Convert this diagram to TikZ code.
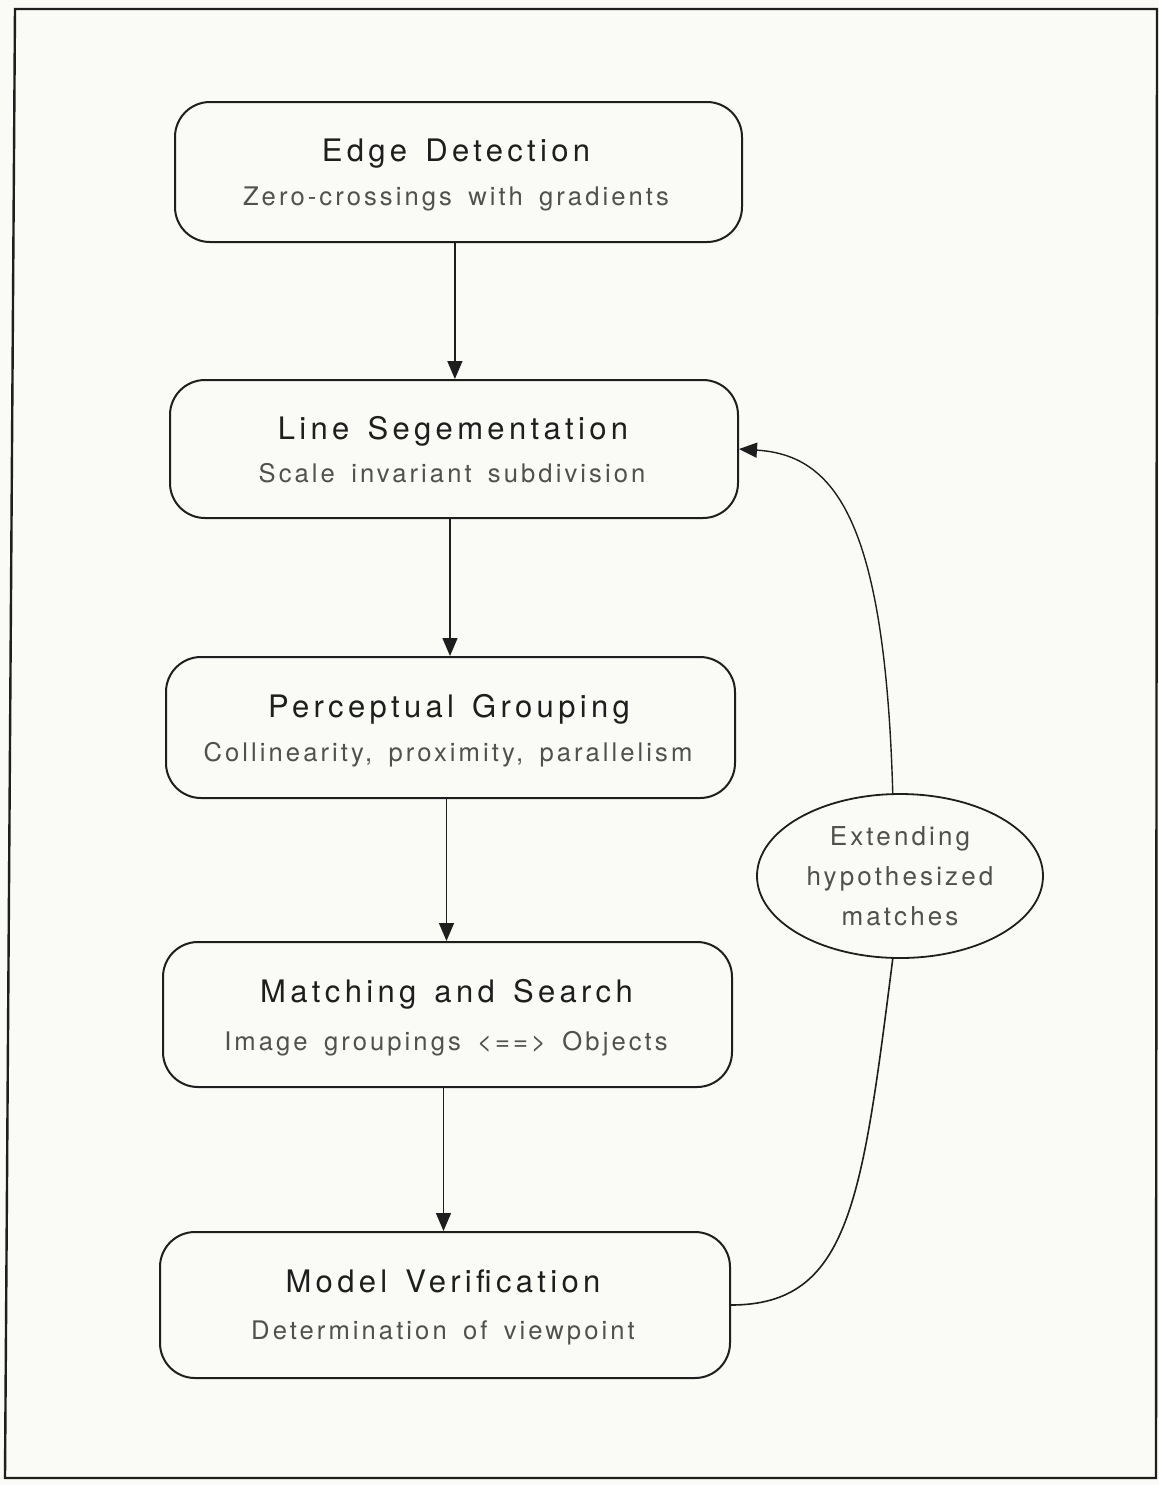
\documentclass[tikz,border=0pt]{standalone}
\usepackage{fontspec}
\setmainfont{TeX Gyre Heros}
\newfontfamily\titlefam{TeX Gyre Heros}[LetterSpace=14,WordSpace=1.4]
\newfontfamily\subfam{TeX Gyre Heros}[LetterSpace=12,WordSpace=1.6]
\usetikzlibrary{arrows.meta,shapes.geometric}
\definecolor{paper}{RGB}{250,250,246}
\definecolor{ink}{RGB}{30,30,30}
\definecolor{subink}{RGB}{80,80,80}
\tikzset{
  stage/.style={draw=ink, line width=1pt, rounded corners=17.5pt, inner sep=0pt},
  ttl/.style={anchor=base, inner sep=0pt, text=ink, font=\titlefam\fontsize{15.5}{18}\selectfont},
  sub/.style={anchor=base, inner sep=0pt, text=subink, font=\subfam\fontsize{12.8}{15}\selectfont},
  oval/.style={draw=ink, line width=0.9pt, ellipse, inner sep=0pt, minimum width=143pt, minimum height=82pt, align=center, text=subink, font=\subfam\fontsize{13}{20}\selectfont},
  arr/.style={draw=ink, line width=0.7pt, -{Triangle[length=9pt,width=7.5pt]}},
  link/.style={draw=ink, line width=0.8pt}
}
\begin{document}
\begin{tikzpicture}[x=0.5pt,y=-0.5pt]
\fill[paper] (0,0) rectangle (1159,1485);
\useasboundingbox (0,0) rectangle (1159,1485);
% frame
\draw[ink, line width=1.2pt] (15,9) -- (1157,9) -- (1156,1478) -- (5,1478) -- cycle;

% stages
\node[stage, minimum width=283.5pt, minimum height=70pt] (b1) at (458.5,172) {};
\node[stage, minimum width=284pt, minimum height=69pt] (b2) at (454,449) {};
\node[stage, minimum width=284.5pt, minimum height=70.5pt] (b3) at (450.5,727.5) {};
\node[stage, minimum width=284.5pt, minimum height=72.5pt] (b4) at (447.5,1014.5) {};
\node[stage, minimum width=285pt, minimum height=73pt] (b5) at (445,1305) {};

% texts
\node[ttl] (t1) at (456,161) {Edge Detection};
\node[sub] (s1) at (456,205) {Zero-crossings with gradients};
\node[ttl] (t2) at (453,439) {Line Segementation};
\node[sub] (s2) at (452,482) {Scale invariant subdivision};
\node[ttl] (t3) at (449,717) {Perceptual Grouping};
\node[sub] (s3) at (448,761) {Collinearity, proximity, parallelism};
\node[ttl] (t4) at (446.5,1002) {Matching and Search};
\node[sub] (s4) at (446,1050) {Image groupings <==> Objects};
\node[ttl] (t5) at (443,1292) {Model Verification};
\node[sub] (s5) at (443,1339) {Determination of viewpoint};

% ellipse
\node[oval] (e) at (900,876) {Extending\\hypothesized\\matches};

% arrows
\draw[arr] ([xshift=-1.8pt]b1.south) -- ([xshift=-1.8pt]b1.south |- b2.north);
\draw[arr] ([xshift=-2pt]b2.south) -- ([xshift=-2pt]b2.south |- b3.north);
\draw[arr] ([xshift=-2pt]b3.south) -- ([xshift=-2pt]b3.south |- b4.north);
\draw[arr] ([xshift=-2pt]b4.south) -- ([xshift=-2pt]b4.south |- b5.north);

% feedback loop
\draw[link] (b5.east) .. controls (850,1305) and (862,1200) .. (e.-95);
\draw[arr] (e.95) .. controls (885,520) and (835,455) .. (b2.east);
\end{tikzpicture}
\end{document}
